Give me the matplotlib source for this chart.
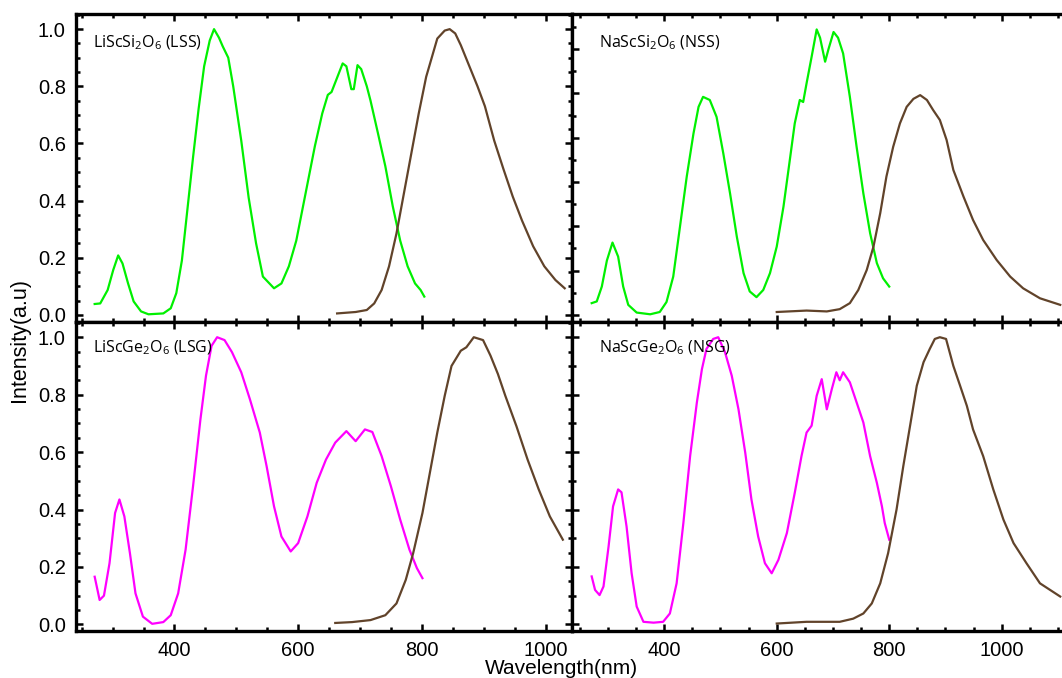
import numpy as np
import matplotlib.pyplot as plt
from matplotlib.ticker import MultipleLocator, NullFormatter

plt.rcParams['font.family'] = ['Liberation Sans', 'DejaVu Sans']
plt.rcParams['mathtext.default'] = 'regular'

# ---- LiScSi2O6 (LSS): excitation / emission ----
lss_ex_wl = [271, 280, 292, 301, 309, 316, 325, 334, 346, 358, 382, 394, 403, 412, 421, 430,
             439, 448, 457, 464, 472, 478, 487, 495, 508, 520, 532, 543, 561, 573, 585, 597,
             612, 627, 639, 648, 654, 663, 672, 678, 686, 690, 696, 702, 711, 717, 729, 741,
             753, 765, 777, 789, 798, 804]
lss_ex = [0.038, 0.040, 0.087, 0.157, 0.208, 0.180, 0.110, 0.047, 0.012, 0.002, 0.005, 0.023,
          0.076, 0.190, 0.370, 0.550, 0.720, 0.870, 0.960, 1.000, 0.970, 0.940, 0.900, 0.800,
          0.610, 0.410, 0.250, 0.134, 0.093, 0.110, 0.170, 0.260, 0.425, 0.590, 0.705, 0.770,
          0.780, 0.830, 0.880, 0.870, 0.790, 0.790, 0.874, 0.860, 0.800, 0.750, 0.636, 0.520,
          0.380, 0.260, 0.170, 0.110, 0.087, 0.064]
lss_em_wl = [663, 693, 711, 723, 735, 747, 759, 771, 783, 795, 807, 816, 825, 837, 845, 854,
             863, 875, 890, 902, 917, 932, 947, 962, 980, 998, 1016, 1031]
lss_em = [0.005, 0.010, 0.017, 0.040, 0.087, 0.170, 0.285, 0.425, 0.565, 0.705, 0.833, 0.900,
          0.967, 0.995, 1.000, 0.985, 0.944, 0.880, 0.800, 0.730, 0.610, 0.510, 0.414, 0.330,
          0.240, 0.170, 0.122, 0.093]

# ---- NaScSi2O6 (NSS) ----
nss_ex_wl = [271, 280, 289, 298, 308, 318, 327, 336, 351, 375, 392, 404, 416, 428, 440, 452,
             461, 469, 481, 493, 505, 517, 529, 541, 552, 564, 576, 588, 600, 612, 624, 632,
             641, 647, 653, 662, 671, 677, 686, 692, 701, 709, 718, 730, 742, 754, 766, 778,
             789, 800]
nss_ex = [0.041, 0.047, 0.099, 0.190, 0.253, 0.204, 0.099, 0.035, 0.008, 0.002, 0.010, 0.045,
          0.134, 0.309, 0.484, 0.635, 0.728, 0.763, 0.752, 0.693, 0.565, 0.425, 0.274, 0.146,
          0.082, 0.062, 0.087, 0.146, 0.239, 0.379, 0.553, 0.670, 0.752, 0.745, 0.810, 0.903,
          0.999, 0.970, 0.886, 0.930, 0.990, 0.970, 0.915, 0.763, 0.588, 0.425, 0.286, 0.181,
          0.128, 0.099]
nss_em_wl = [600, 653, 689, 712, 730, 745, 760, 772, 784, 795, 807, 819, 831, 843, 855, 867,
             878, 890, 902, 914, 932, 949, 967, 991, 1015, 1038, 1068, 1104]
nss_em = [0.010, 0.015, 0.012, 0.020, 0.041, 0.087, 0.157, 0.239, 0.356, 0.484, 0.588, 0.670,
          0.728, 0.756, 0.769, 0.752, 0.717, 0.682, 0.612, 0.507, 0.414, 0.332, 0.262, 0.192,
          0.134, 0.093, 0.058, 0.035]

# ---- LiScGe2O6 (LSG) ----
lsg_ex_wl = [271, 279, 286, 295, 304, 311, 319, 328, 337, 349, 364, 382, 394, 406, 418, 430,
             442, 451, 460, 469, 481, 493, 508, 522, 538, 549, 561, 573, 588, 600, 615, 630,
             645, 660, 678, 693, 708, 720, 735, 750, 765, 780, 792, 801]
lsg_ex = [0.166, 0.085, 0.100, 0.213, 0.388, 0.435, 0.376, 0.248, 0.108, 0.027, 0.002, 0.008,
          0.032, 0.108, 0.260, 0.480, 0.714, 0.866, 0.970, 1.000, 0.990, 0.948, 0.878, 0.784,
          0.668, 0.551, 0.411, 0.306, 0.254, 0.283, 0.376, 0.493, 0.574, 0.633, 0.673, 0.638,
          0.679, 0.670, 0.586, 0.481, 0.365, 0.260, 0.196, 0.161]
lsg_em_wl = [660, 687, 717, 741, 759, 774, 786, 801, 813, 825, 837, 848, 863, 872, 884, 899,
             911, 923, 935, 953, 971, 989, 1007, 1028]
lsg_em = [0.005, 0.008, 0.015, 0.032, 0.073, 0.155, 0.248, 0.388, 0.528, 0.668, 0.796, 0.900,
          0.953, 0.965, 1.000, 0.990, 0.936, 0.872, 0.796, 0.690, 0.574, 0.470, 0.376, 0.295]

# ---- NaScGe2O6 (NSG) ----
nsg_ex_wl = [271, 277, 285, 292, 301, 309, 318, 324, 333, 342, 351, 363, 381, 398, 410, 422,
             434, 446, 458, 467, 475, 487, 496, 508, 520, 532, 544, 555, 567, 579, 591, 603,
             618, 632, 644, 653, 662, 671, 680, 689, 698, 706, 712, 718, 730, 742, 754, 766,
             778, 787, 792, 800]
nsg_ex = [0.167, 0.120, 0.102, 0.132, 0.271, 0.411, 0.470, 0.460, 0.341, 0.178, 0.062, 0.009,
          0.006, 0.009, 0.038, 0.143, 0.353, 0.586, 0.773, 0.889, 0.959, 0.994, 1.000, 0.948,
          0.866, 0.749, 0.598, 0.435, 0.306, 0.213, 0.178, 0.225, 0.318, 0.458, 0.586, 0.668,
          0.692, 0.796, 0.854, 0.749, 0.820, 0.878, 0.850, 0.878, 0.843, 0.773, 0.703, 0.586,
          0.493, 0.411, 0.353, 0.295]
nsg_em_wl = [600, 653, 712, 736, 754, 769, 784, 798, 813, 825, 837, 849, 861, 872, 881, 890,
             901, 914, 926, 938, 949, 967, 985, 1003, 1021, 1044, 1068, 1104]
nsg_em = [0.003, 0.009, 0.009, 0.020, 0.038, 0.073, 0.143, 0.248, 0.400, 0.551, 0.691, 0.831,
          0.913, 0.959, 0.994, 1.000, 0.994, 0.900, 0.831, 0.761, 0.679, 0.586, 0.470, 0.365,
          0.283, 0.213, 0.143, 0.097]

GREEN = '#00f000'
MAGENTA = '#ff00ff'
BROWN = '#61432a'

W, H = 1062, 678
fig = plt.figure(figsize=(W / 100, H / 100), dpi=100)


def panel(x0, y0, x1, y1):
    return fig.add_axes([x0 / W, 1 - y1 / H, (x1 - x0) / W, (y1 - y0) / H])


left_x = (75.5, 571.5)
right_x = (572, 1063.6)
ax_lss = panel(left_x[0], 14, left_x[1], 322)
ax_nss = panel(right_x[0], 14, right_x[1], 322)
ax_lsg = panel(left_x[0], 322, left_x[1], 631)
ax_nsg = panel(right_x[0], 322, right_x[1], 631)

panels = [
    (ax_lss, lss_ex_wl, lss_ex, lss_em_wl, lss_em, GREEN, r'LiScSi$_2$O$_6$ (LSS)'),
    (ax_nss, nss_ex_wl, nss_ex, nss_em_wl, nss_em, GREEN, r'NaScSi$_2$O$_6$ (NSS)'),
    (ax_lsg, lsg_ex_wl, lsg_ex, lsg_em_wl, lsg_em, MAGENTA, r'LiScGe$_2$O$_6$ (LSG)'),
    (ax_nsg, nsg_ex_wl, nsg_ex, nsg_em_wl, nsg_em, MAGENTA, r'NaScGe$_2$O$_6$ (NSG)'),
]

for ax, exw, ex, emw, em, col, name in panels:
    ax.plot(exw, ex, color=col, lw=1.6)
    ax.plot(emw, em, color=BROWN, lw=1.6)
    left = ax in (ax_lss, ax_lsg)
    top = ax in (ax_lss, ax_nss)
    ax.set_xlim((240, 1042) if left else (236, 1110))
    ax.set_ylim((-0.025, 1.053) if top else (-0.023, 1.053))
    for sp in ax.spines.values():
        sp.set_linewidth(2.4)
    if not left:
        ax.spines['right'].set_visible(False)
    ax.xaxis.set_major_locator(MultipleLocator(200))
    ax.xaxis.set_minor_locator(MultipleLocator(50))
    if ax is ax_nss:
        ax.yaxis.set_major_locator(MultipleLocator(0.155))
        ax.yaxis.set_minor_locator(MultipleLocator(0.0775))
    elif ax is ax_nsg:
        ax.yaxis.set_major_locator(MultipleLocator(0.2))
        ax.yaxis.set_minor_locator(MultipleLocator(0.1))
    else:
        ax.yaxis.set_major_locator(MultipleLocator(0.2))
        ax.yaxis.set_minor_locator(MultipleLocator(0.05))
    ax.tick_params(which='both', direction='in', top=True, right=left,
                   labelsize=14.5, width=1.8)
    ax.tick_params(which='major', length=5, pad=7)
    ax.tick_params(which='minor', length=3)
    if top:
        ax.xaxis.set_major_formatter(NullFormatter())
    if not left:
        ax.yaxis.set_major_formatter(NullFormatter())
    ax.text(0.035 if left else 0.055, 0.905 if top else 0.916, name,
            transform=ax.transAxes, ha='left', va='center', fontsize=11.5,
            family=['Open Sans', 'DejaVu Sans'])

fig.text(20 / W, 1 - 340 / H, 'Intensity(a.u)', rotation=90, ha='center', va='center',
         fontsize=15.5)
fig.text(561 / W, 1 - 659 / H, 'Wavelength(nm)', ha='center', va='top', fontsize=15)

fig.savefig('out.png', dpi=100)
